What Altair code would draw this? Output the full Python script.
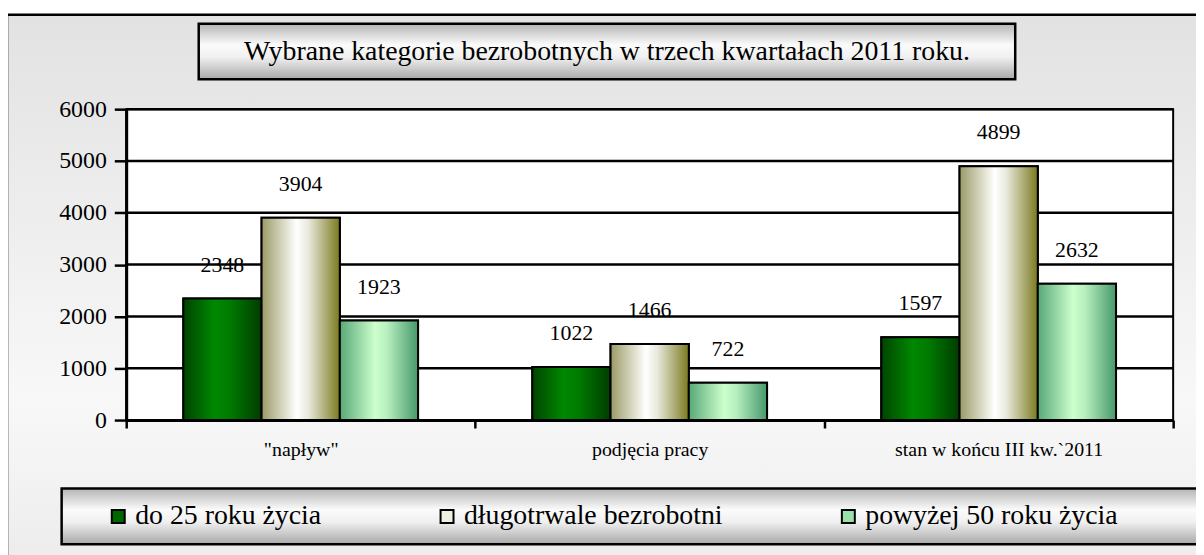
import altair as alt
import pandas as pd

categories = ['"napływ"', 'podjęcia pracy', 'stan w końcu III kw.`2011']
series = ['do 25 roku życia', 'długotrwale bezrobotni', 'powyżej 50 roku życia']
young = [2348, 1022, 1597]
longterm = [3904, 1466, 4899]
older = [1923, 722, 2632]
y_ticks = [0, 1000, 2000, 3000, 4000, 5000, 6000]
grid_vals = [1000, 2000, 3000, 4000, 5000, 6000]
title_text = "Wybrane kategorie bezrobotnych w trzech kwartałach 2011 roku."

rows = []
for k, (s, vals) in enumerate(zip(series, [young, longterm, older])):
    for c, v in zip(categories, vals):
        rows.append({"category": c, "series": s, "k": k, "value": v})
df = pd.DataFrame(rows)
grid_df = pd.DataFrame({"value": grid_vals})
one = pd.DataFrame({"a": [0]})

W, H = 1054, 313
FONT = "Liberation Serif"


def grad(stops, vertical=False):
    g = {"gradient": "linear", "x1": 0, "y1": 0,
         "x2": 0 if vertical else 1, "y2": 1 if vertical else 0,
         "stops": [{"offset": o, "color": c} for o, c in stops]}
    return g


bg_grad = grad([(0, "#e2e2e2"), (0.7, "#f8f8f8"), (1, "#ececec")], vertical=True)
box_grad = grad([(0, "#b4b4b4"), (0.38, "#fbfbfb"), (0.6, "#f0f0f0"), (1, "#a8a8a8")], vertical=True)
g_young = grad([(0, "#004400"), (0.4, "#008800"), (0.6, "#007a00"), (1, "#003c00")])
g_long = grad([(0, "#9a9a66"), (0.45, "#ffffff"), (0.6, "#e8e8dc"), (1, "#7a7a1e")])
g_old = grad([(0, "#58a878"), (0.45, "#ccffcc"), (0.6, "#b8f0c0"), (1, "#46986a")])
solid = ["#006600", "#f0f0e0", "#99e0aa"]

yscale = alt.Scale(domain=[0, 6000], nice=False)
yaxis = alt.Axis(values=y_ticks, format="d", title=None, grid=False, domainColor="black",
                 domainWidth=3, tickColor="black", tickWidth=2.5, tickSize=12,
                 labelFont=FONT, labelFontSize=24, labelColor="black", labelPadding=8, zindex=1)
xscale = alt.Scale(domain=categories, paddingInner=0, paddingOuter=0)
xaxis = alt.Axis(title=None, labelAngle=0, tickBand="extent", tickSize=8, tickWidth=2.5,
                 tickColor="black", domainColor="black", domainWidth=3, labelFont=FONT,
                 labelFontSize=20, labelColor="black", labelPadding=12, labelLimit=0, zindex=1)
xoff = alt.XOffset("series:N", scale=alt.Scale(domain=series, paddingOuter=0.73, paddingInner=0))

bg = alt.Chart(one).mark_rect(fill=bg_grad, stroke="black", strokeWidth=2.5).encode(
    x=alt.value(-120), x2=alt.value(1100), y=alt.value(-95), y2=alt.value(460))
title_box = alt.Chart(one).mark_rect(fill=box_grad, stroke="black", strokeWidth=2.5).encode(
    x=alt.value(73), x2=alt.value(895), y=alt.value(-86), y2=alt.value(-30))
title = alt.Chart(one).mark_text(text=title_text, font=FONT, fontSize=28, color="black",
                                 align="center", baseline="middle").encode(
    x=alt.value(484), y=alt.value(-57))
legend_box = alt.Chart(one).mark_rect(fill=box_grad, stroke="black", strokeWidth=2.5).encode(
    x=alt.value(-65), x2=alt.value(1100), y=alt.value(382), y2=alt.value(438))
plot_bg = alt.Chart(one).mark_rect(fill="white", stroke="black", strokeWidth=2).encode(
    x=alt.value(0), x2=alt.value(W), y=alt.value(0), y2=alt.value(H))
grid = alt.Chart(grid_df).mark_rule(color="black", strokeWidth=2.5).encode(
    y=alt.Y("value:Q", scale=yscale, axis=yaxis))

bars_solid = alt.Chart(df).mark_bar(stroke="black", strokeWidth=2).encode(
    x=alt.X("category:N", scale=xscale, axis=xaxis, sort=categories),
    xOffset=xoff,
    y=alt.Y("value:Q", scale=yscale, axis=yaxis),
    fill=alt.Fill("series:N", scale=alt.Scale(domain=series, range=solid),
                  legend=alt.Legend(orient="none", legendX=-22, legendY=396,
                                    direction="horizontal", title=None, symbolType="square",
                                    symbolSize=170, symbolStrokeColor="black",
                                    symbolStrokeWidth=2, labelFont=FONT, labelFontSize=28,
                                    labelColor="black", labelOffset=3, columnPadding=112,
                                    labelLimit=0, padding=0, zindex=1)),
)
bars_grad = alt.Chart(df).mark_bar(stroke="black", strokeWidth=2).encode(
    x=alt.X("category:N", scale=xscale, axis=xaxis, sort=categories),
    xOffset=xoff,
    y=alt.Y("value:Q", scale=yscale, axis=yaxis),
    fill=alt.FillValue(value=g_old, condition=[
        {"test": "datum.k === 0", "value": g_young},
        {"test": "datum.k === 1", "value": g_long},
    ]),
)
labels = alt.Chart(df).mark_text(font=FONT, fontSize=22, color="black", dy=-34,
                                 baseline="middle").encode(
    x=alt.X("category:N", scale=xscale, axis=xaxis, sort=categories),
    xOffset=xoff,
    y=alt.Y("value:Q", scale=yscale, axis=yaxis),
    text=alt.Text("value:Q", format="d"),
)

chart = alt.layer(bg, title_box, title, legend_box, plot_bg, grid, bars_solid, bars_grad, labels).properties(
    width=W, height=H, background="white",
    padding={"left": 119, "top": 100, "right": 23, "bottom": 134},
    autosize=alt.AutoSizeParams(type="none"),
).configure(font=FONT).configure_view(stroke=None)

chart.save("out.html", embed_options={"renderer": "svg", "actions": False})
